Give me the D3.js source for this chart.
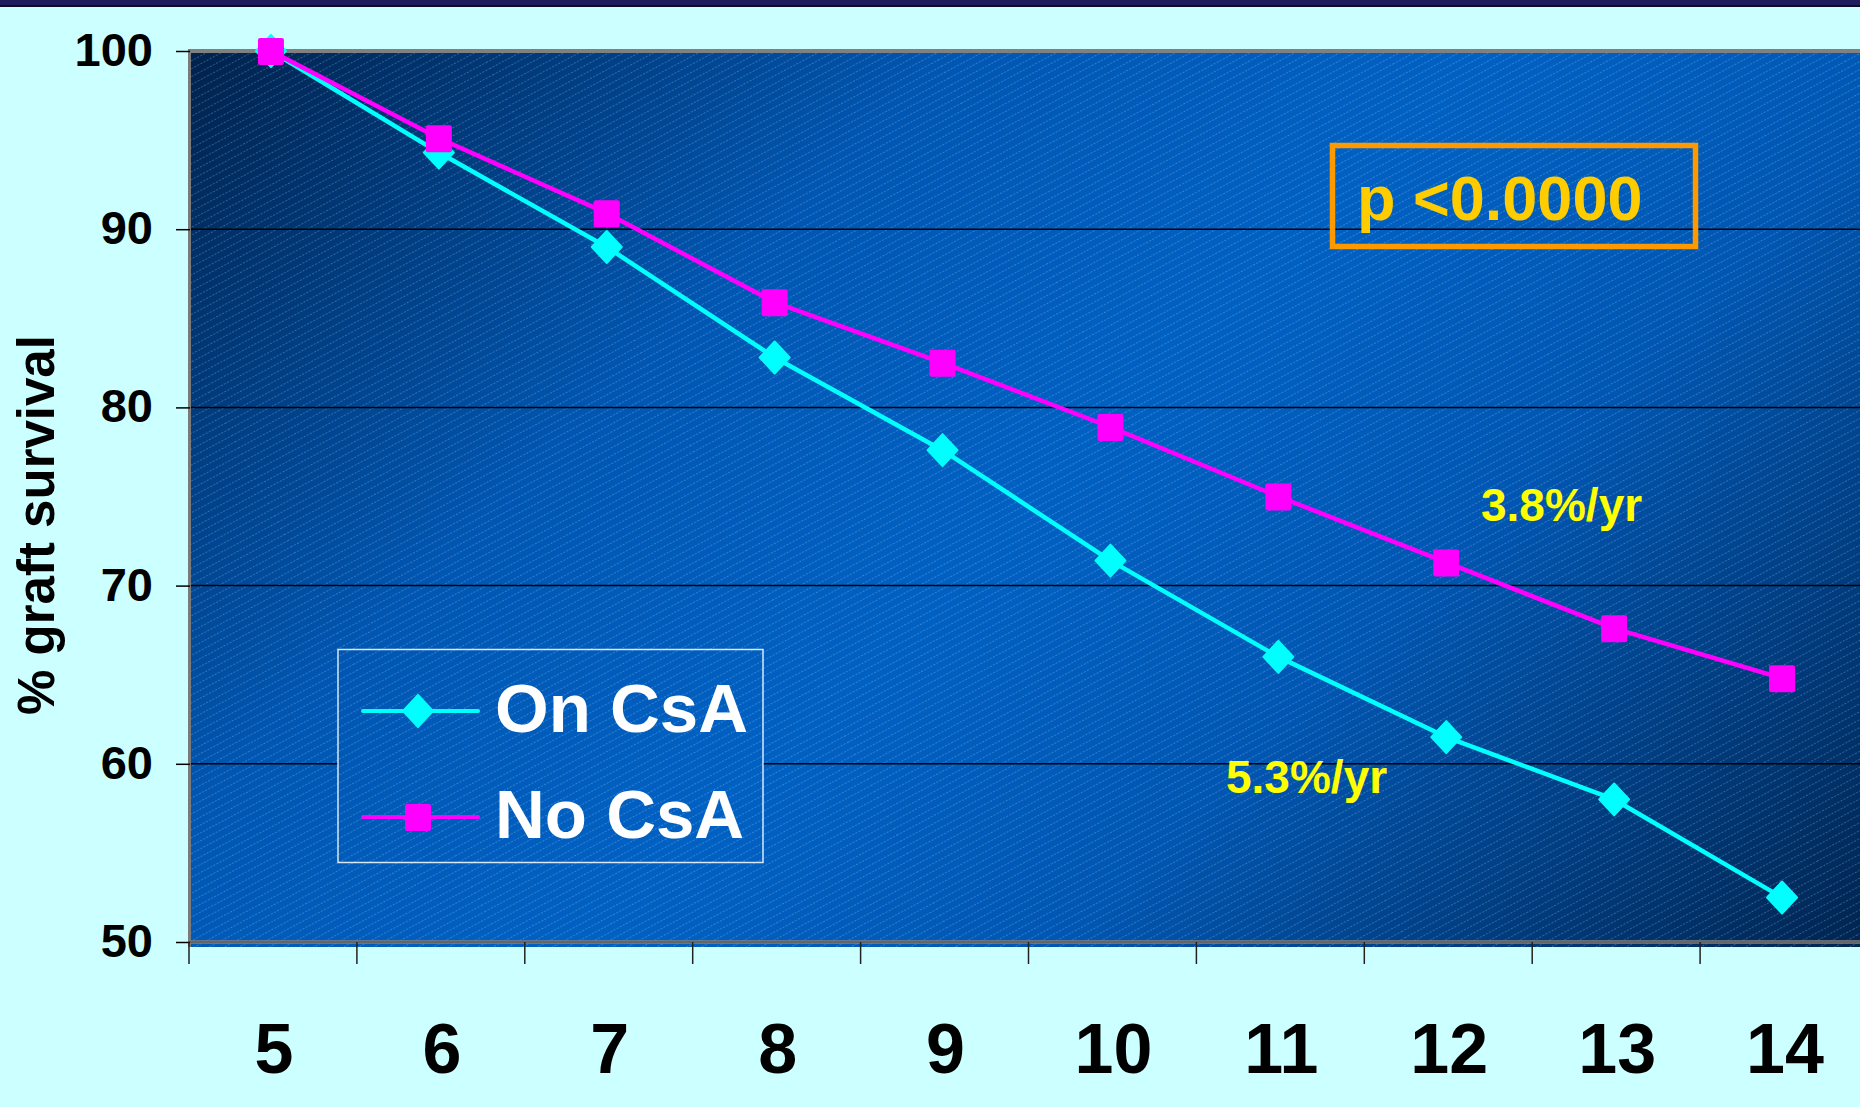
<!DOCTYPE html>
<html>
<head>
<meta charset="utf-8">
<script src="https://cdn.jsdelivr.net/npm/d3@7"></script>
<style>
  html, body { margin: 0; padding: 0; background: #ccffff; overflow: hidden; }
  svg { display: block; }
  text { font-family: "Liberation Sans", Arial, Helvetica, sans-serif; font-weight: bold; }
</style>
</head>
<body>
<svg id="chart" width="1860" height="1107"></svg>
<script>
// Years after transplant (category axis)
const years = ["5", "6", "7", "8", "9", "10", "11", "12", "13", "14"];
// % graft survival per year
const onCsA = [100, 94.3, 89.0, 82.8, 77.6, 71.4, 66.0, 61.5, 58.0, 52.5];
const noCsA = [100, 95.1, 90.9, 85.9, 82.5, 78.9, 75.0, 71.3, 67.6, 64.8];
// Y axis ticks
const yTicks = [50, 60, 70, 80, 90, 100];
// Series names and slope annotations
const seriesNames = ["On CsA", "No CsA"];
const rateLabels = ["5.3%/yr", "3.8%/yr"];
const pLabel = "p <0.0000";
const yTitle = "% graft survival";

const W = 1860, H = 1107;
const plot = { left: 190, top: 51, right: 1868, bottom: 942 };

const svg = d3.select("#chart");

// Page background and top band
svg.append("rect").attr("width", W).attr("height", H).attr("fill", "#ccffff");
svg.append("rect").attr("x", 0).attr("y", 0).attr("width", W).attr("height", 6).attr("fill", "#1e1c5c");
svg.append("rect").attr("x", 0).attr("y", 5).attr("width", W).attr("height", 2).attr("fill", "#0c0c24");

const x = d3.scaleBand().domain(years).range([plot.left - 1, plot.right]).paddingInner(0).paddingOuter(0);
const y = d3.scaleLinear().domain([50, 100]).range([plot.bottom, plot.top]);

// Plot-area fill: diagonal dark-bright-dark gradient with a fine slanted hatch
const defs = svg.append("defs");
const grad = defs.append("linearGradient")
  .attr("id", "bgGrad")
  .attr("gradientUnits", "userSpaceOnUse")
  .attr("x1", plot.left).attr("y1", plot.top)
  .attr("x2", plot.left + 1290).attr("y2", plot.top + 1290);
[[0, "#00224c"], [0.3, "#0057b3"], [0.5, "#0061c3"], [0.68, "#0057b3"], [1, "#00244f"]]
  .forEach(([o, c]) => grad.append("stop").attr("offset", o).attr("stop-color", c));

const hatch = defs.append("pattern")
  .attr("id", "hatch")
  .attr("patternUnits", "userSpaceOnUse")
  .attr("width", 400).attr("height", 7)
  .attr("patternTransform", "rotate(-28)");
hatch.append("line")
  .attr("x1", 0).attr("y1", 3.5).attr("x2", 400).attr("y2", 3.5)
  .attr("stroke", "rgba(190,215,255,0.32)")
  .attr("stroke-width", 0.9)
  .attr("stroke-dasharray", "2,1.5");

function paintPanel(g, x0, y0, w, h) {
  g.append("rect").attr("x", x0).attr("y", y0).attr("width", w).attr("height", h).attr("fill", "url(#bgGrad)");
  g.append("rect").attr("x", x0).attr("y", y0).attr("width", w).attr("height", h).attr("fill", "url(#hatch)");
}

const bg = svg.append("g");
paintPanel(bg, plot.left, plot.top, plot.right - plot.left + 2, plot.bottom - plot.top + 5);

// Horizontal gridlines
svg.append("g")
  .selectAll("line")
  .data(yTicks.filter(v => v > 50 && v < 100))
  .join("line")
  .attr("x1", plot.left).attr("x2", W)
  .attr("y1", d => y(d)).attr("y2", d => y(d))
  .attr("stroke", "#000").attr("stroke-width", 1.5);

// Plot frame: grey top and left edges, grey baseline
svg.append("line").attr("x1", plot.left - 2).attr("x2", W).attr("y1", plot.top).attr("y2", plot.top)
  .attr("stroke", "#808080").attr("stroke-width", 4);
svg.append("line").attr("x1", plot.left - 0.5).attr("x2", plot.left - 0.5).attr("y1", plot.top - 2).attr("y2", plot.bottom + 5)
  .attr("stroke", "#7a7a7a").attr("stroke-width", 3);
svg.append("line").attr("x1", plot.left - 2).attr("x2", W).attr("y1", plot.bottom).attr("y2", plot.bottom)
  .attr("stroke", "#808080").attr("stroke-width", 3.5);
svg.append("line").attr("x1", plot.left - 2).attr("x2", W).attr("y1", plot.bottom).attr("y2", plot.bottom)
  .attr("stroke", "#4a4a4a").attr("stroke-width", 1);

// Y axis
const yAxis = d3.axisLeft(y).tickValues(yTicks).tickSize(14).tickPadding(23).tickFormat(d3.format("d"));
const gy = svg.append("g").attr("transform", `translate(${plot.left},0)`).call(yAxis);
gy.select(".domain").remove();
gy.selectAll(".tick line").attr("stroke", "#000").attr("stroke-width", 1.5);
gy.selectAll(".tick text")
  .attr("fill", "#000")
  .style("font-size", "47px")
  .attr("dy", "0.31em");

// X axis: tick marks on category boundaries, labels centred in each band
const boundaries = years.map(d => x(d));
svg.append("g")
  .selectAll("line")
  .data(boundaries)
  .join("line")
  .attr("x1", d => d).attr("x2", d => d)
  .attr("y1", plot.bottom).attr("y2", plot.bottom + 22)
  .attr("stroke", "#222").attr("stroke-width", 1.5);

const xAxis = d3.axisBottom(x).tickSizeInner(0).tickSizeOuter(0).tickPadding(81);
const gx = svg.append("g").attr("transform", `translate(1,${plot.bottom})`).call(xAxis);
gx.select(".domain").remove();
gx.selectAll(".tick text")
  .attr("fill", "#000")
  .style("font-size", "70px");

// Y axis title
svg.append("text")
  .attr("transform", "translate(54,525) rotate(-90)")
  .attr("text-anchor", "middle")
  .attr("fill", "#000")
  .style("font-size", "51px")
  .text(yTitle);

// Series lines and markers
const cx = d => x(d) + x.bandwidth() / 2 - 2;
const series = [
  { name: seriesNames[0], values: onCsA, color: "#00ffff", shape: "diamond" },
  { name: seriesNames[1], values: noCsA, color: "#ff00ff", shape: "square" }
];

const line = d3.line().x((d, i) => cx(years[i])).y(d => y(d));

function drawMarker(g, shape, color, px, py) {
  if (shape === "diamond") {
    const r = 15;
    g.append("path")
      .attr("d", `M${px},${py - r - 1}L${px + r},${py}L${px},${py + r + 1}L${px - r},${py}Z`)
      .attr("fill", color).attr("stroke", color).attr("stroke-width", 2).attr("stroke-linejoin", "round");
  } else {
    const s = 26;
    g.append("rect")
      .attr("x", px - s / 2).attr("y", py - s / 2).attr("width", s).attr("height", s + 1)
      .attr("rx", 2).attr("fill", color);
  }
}

series.forEach(s => {
  svg.append("path")
    .datum(s.values)
    .attr("d", line)
    .attr("fill", "none")
    .attr("stroke", s.color)
    .attr("stroke-width", 4.5)
    .attr("stroke-linejoin", "round");
});
series.forEach(s => {
  const g = svg.append("g");
  s.values.forEach((v, i) => drawMarker(g, s.shape, s.color, cx(years[i]), y(v)));
});

// Slope annotations
svg.append("text").attr("x", 1226).attr("y", 793).attr("fill", "#ffff00").style("font-size", "46px").text(rateLabels[0]);
svg.append("text").attr("x", 1481).attr("y", 521).attr("fill", "#ffff00").style("font-size", "46px").text(rateLabels[1]);

// p-value box
svg.append("rect")
  .attr("x", 1332.5).attr("y", 145.5).attr("width", 363).attr("height", 101)
  .attr("fill", "none").attr("stroke", "#ff9900").attr("stroke-width", 5.5);
svg.append("text").attr("x", 1357).attr("y", 220).attr("fill", "#ffcc00").style("font-size", "63px").text(pLabel);

// Legend
const leg = svg.append("g");
const lb = { x: 338, y: 649.5, w: 425, h: 213 };
paintPanel(leg, lb.x, lb.y, lb.w, lb.h);
leg.append("rect").attr("x", lb.x).attr("y", lb.y).attr("width", lb.w).attr("height", lb.h)
  .attr("fill", "none").attr("stroke", "rgba(255,255,255,0.85)").attr("stroke-width", 1.5);
const legRows = [711, 817];
series.forEach((s, i) => {
  const ly = legRows[i];
  leg.append("line").attr("x1", 363).attr("x2", 478).attr("y1", ly).attr("y2", ly)
    .attr("stroke", s.color).attr("stroke-width", 4).attr("stroke-linecap", "round");
  drawMarker(leg, s.shape, s.color, 418, ly);
  leg.append("text").attr("x", 495).attr("y", ly + 21).attr("fill", "#fff").style("font-size", "69px").text(s.name);
});
</script>
</body>
</html>
